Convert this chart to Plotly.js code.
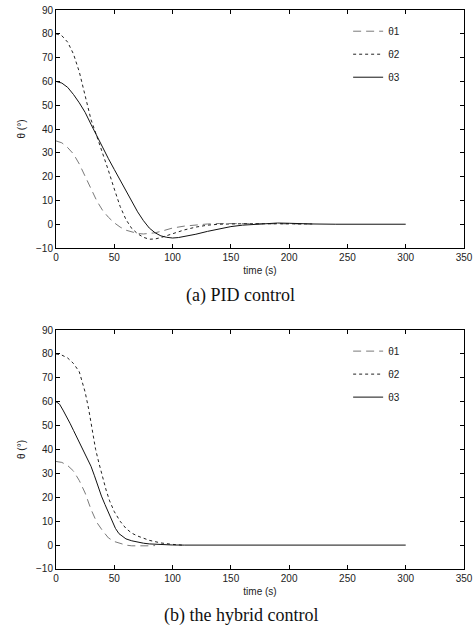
<!DOCTYPE html>
<html>
<head>
<meta charset="utf-8">
<script src="https://cdn.plot.ly/plotly-3.0.1.min.js"></script>
<style>html,body{margin:0;padding:0;background:#fff;}#chart{width:474px;height:629px;}</style>
</head>
<body>
<div id="chart"></div>
<script>
// ---- Data ----
const seriesNames = ["θ1", "θ2", "θ3"];
const captionA = "(a) PID control";
const captionB = "(b) the hybrid control";
const xTickVals = [0, 50, 100, 150, 200, 250, 300, 350];
const yTickVals = [-10, 0, 10, 20, 30, 40, 50, 60, 70, 80, 90];

// (a) PID control
const pidT1 = [0,5,10,15,20,25,30,35,40,45,50,55,60,65,70,75,80,85,90,95,100,110,120,130,140,150,160,170,180,190,200,210,218];
const pidTheta1 = [35,34.2,32.2,29.5,25.3,20,14.7,9.8,5.8,2.9,0.6,-1.2,-2.5,-3.3,-3.9,-4.1,-4.0,-3.6,-3.0,-2.3,-1.6,-0.8,-0.3,0.1,0.3,0.3,0.3,0.3,0.2,0.2,0.1,0.1,0.1];

const pidT2 = [0,5,10,15,20,25,30,35,40,45,50,55,60,65,70,75,80,85,90,95,100,110,120,130,140,150,160,170,180,190,200,210,220];
const pidTheta2 = [80,79.2,76.5,71.5,64,54,44,37,30,22.5,14.8,7.5,2,-1.8,-4,-5.5,-6.3,-6.2,-5.6,-4.8,-4,-2.4,-1.2,-0.4,0,0.2,0.2,0.2,0.3,0.3,0.2,0.1,0.1];

const pidT3 = [0,5,10,15,20,25,30,35,40,45,50,55,60,65,70,75,80,85,90,95,100,105,110,120,130,140,150,160,170,180,190,200,210,220,240,260,280,300];
const pidTheta3 = [60,59.3,57.5,54.5,51,47,42,37,32,27.5,23,18.5,14,9.5,5.2,1.5,-1.6,-3.6,-4.9,-5.5,-5.8,-5.6,-5.2,-4.2,-3,-2,-1,-0.4,0,0.3,0.5,0.4,0.2,0.1,0,0,0,0];

// (b) the hybrid control
const hybT1 = [0,5,10,15,20,25,30,35,40,45,50,55,60,65,70,75,80,85];
const hybTheta1 = [35,34.6,33.3,31,27,21.8,15,9.5,6,3,1.5,0.6,0,-0.3,-0.4,-0.4,-0.3,-0.2];

const hybT2 = [0,5,10,15,20,25,28,31,34,37,40,43,46,50,55,60,65,70,80,90,100,108];
const hybTheta2 = [80,79.5,78.3,76,72.5,64,57,48,40,34,28,23,18.5,14,10,7,5,3.8,2,0.9,0.3,0];

const hybT3 = [0,3,6,9,12,15,18,21,24,27,30,33,36,39,42,45,48,51,54,57,60,65,70,75,80,90,100,110,150,200,250,300];
const hybTheta3 = [60,59,56.5,54,51,48,45,42,39.5,36.5,33,29,24.5,20.5,17,13.5,10,7,4.8,3.5,2.6,1.8,1.2,0.8,0.5,0.2,0.05,0,0,0,0,0];

// ---- Styles ----
const styles = [
  {color: "#7a7a7a", width: 1, dash: "8px,5px"},
  {color: "#222222", width: 1, dash: "dot"},
  {color: "#111111", width: 1, dash: "solid"}
];

function trace(x, y, i, xa, ya, legend, show) {
  return {
    x: x, y: y, type: "scatter", mode: "lines",
    name: seriesNames[i], line: styles[i],
    xaxis: xa, yaxis: ya, legend: legend,
    legendgroup: legend + i, showlegend: show,
    hoverinfo: "skip"
  };
}

const data = [
  trace(pidT1, pidTheta1, 0, "x", "y", "legend", true),
  trace(pidT2, pidTheta2, 1, "x", "y", "legend", true),
  trace(pidT3, pidTheta3, 2, "x", "y", "legend", true),
  trace(hybT1, hybTheta1, 0, "x2", "y2", "legend2", true),
  trace(hybT2, hybTheta2, 1, "x2", "y2", "legend2", true),
  trace(hybT3, hybTheta3, 2, "x2", "y2", "legend2", true)
];

const tickFont = {family: "Liberation Sans, Arial, sans-serif", size: 10, color: "#222"};

function xAxis(anchor) {
  return {
    anchor: anchor, domain: [0, 1], range: [0, 350],
    tickvals: xTickVals, ticks: "inside", ticklen: 4, tickcolor: "#000",
    showline: true, linecolor: "#000", linewidth: 1, mirror: "ticks",
    showgrid: false, zeroline: false, tickfont: tickFont,
    title: {text: "time (s)", font: tickFont, standoff: 4}
  };
}
function yAxis(anchor, domain) {
  return {
    anchor: anchor, domain: domain, range: [-10, 90],
    tickvals: yTickVals, ticks: "inside", ticklen: 4, tickcolor: "#000",
    showline: true, linecolor: "#000", linewidth: 1, mirror: "ticks",
    showgrid: false, zeroline: false, tickfont: tickFont,
    title: {text: "θ (°)", font: tickFont, standoff: 8}
  };
}

const legendBase = {
  xanchor: "left", yanchor: "top", bgcolor: "rgba(0,0,0,0)",
  font: {family: "Liberation Sans, Arial, sans-serif", size: 10, color: "#222"},
  tracegroupgap: 4, traceorder: "grouped"
};

const layout = {
  width: 474, height: 629,
  margin: {l: 56, r: 10, t: 10, b: 60},
  paper_bgcolor: "#fff", plot_bgcolor: "#fff",
  showlegend: true,
  xaxis: xAxis("y"),
  yaxis: yAxis("x", [0.5742, 1]),
  xaxis2: xAxis("y2"),
  yaxis2: yAxis("x2", [0, 0.4275]),
  legend: Object.assign({x: 0.716, y: 0.988}, legendBase),
  legend2: Object.assign({x: 0.716, y: 0.4157}, legendBase),
  annotations: [
    {text: captionA, xref: "paper", yref: "paper", x: 0.4534, y: 0.4884,
     showarrow: false, xanchor: "center", yanchor: "middle",
     font: {family: "Liberation Serif, Times New Roman, serif", size: 18, color: "#111"}},
    {text: captionB, xref: "paper", yref: "paper", x: 0.4534, y: -0.0823,
     showarrow: false, xanchor: "center", yanchor: "middle",
     font: {family: "Liberation Serif, Times New Roman, serif", size: 18, color: "#111"}}
  ]
};

Plotly.newPlot("chart", data, layout, {staticPlot: true, displayModeBar: false});
</script>
</body>
</html>
